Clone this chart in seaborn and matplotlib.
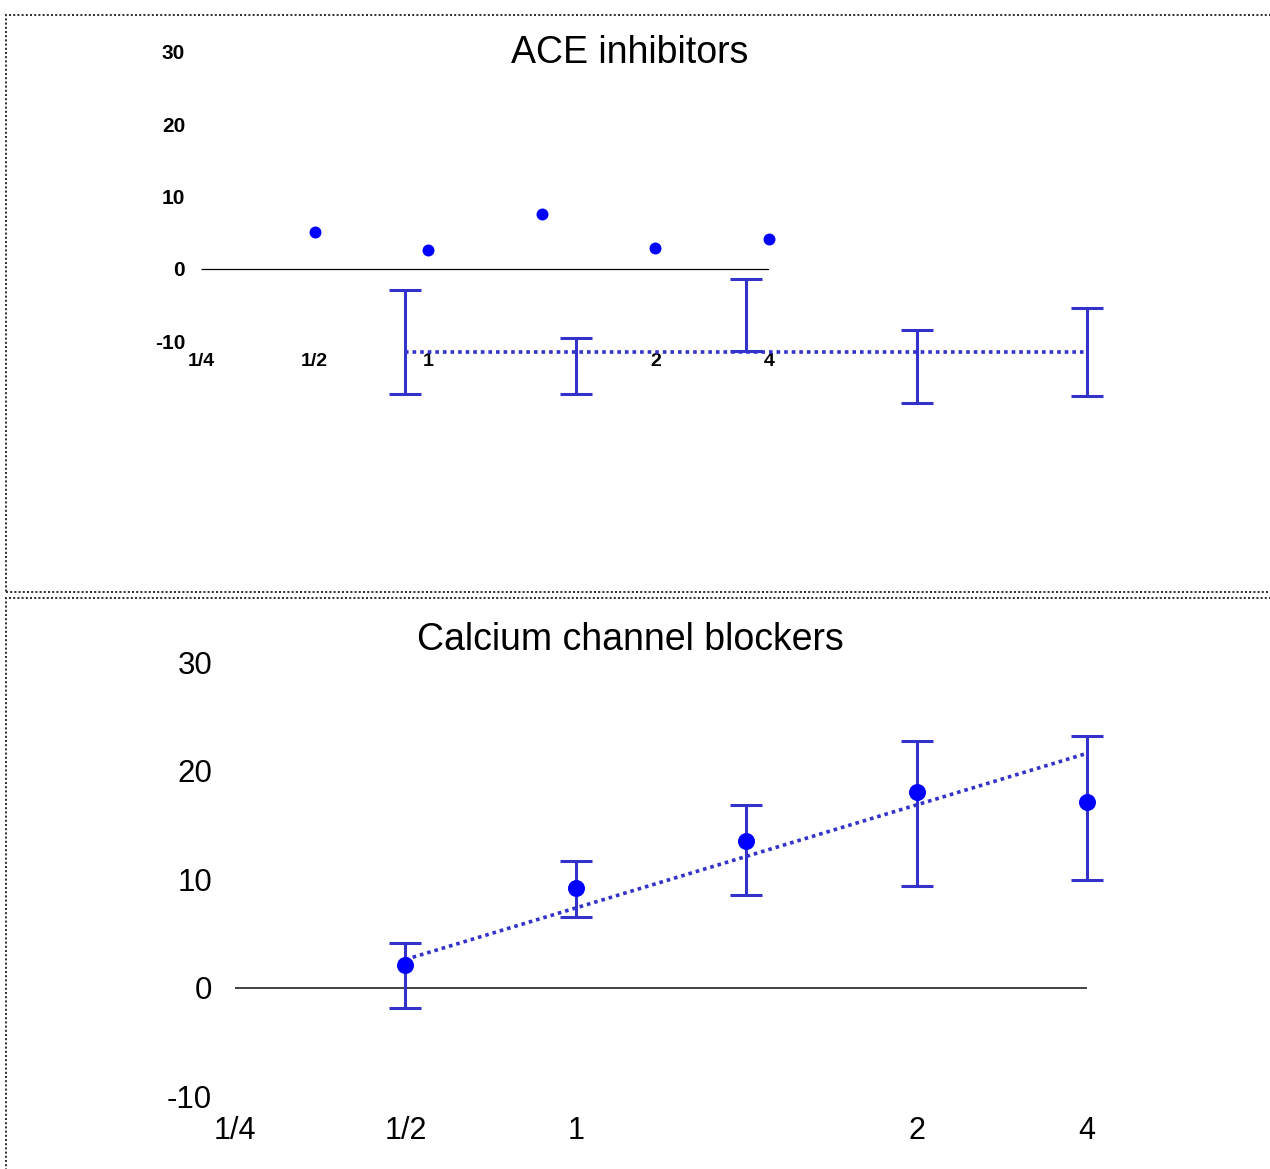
import numpy as np
import pandas as pd
import matplotlib.pyplot as plt
import seaborn as sns
from matplotlib.patches import Rectangle

# dose slots on the x axis: 1/4, 1/2, 1, (unlabelled), 2, 4
tick_pos = [0, 1, 2, 4, 5]
tick_labels = ["1/4", "1/2", "1", "2", "4"]
y_ticks = [-10, 0, 10, 20, 30]
slots = [1, 2, 3, 4, 5]
trend_x = [1, 5]

# ACE inhibitors
ace_mean = [5.1, 2.6, 7.6, 2.9, 4.1]
ace_low = [0.5, 0.5, 4.5, -0.3, 0.3]
ace_high = [10.1, 5.7, 11.1, 6.4, 8.4]
ace_trend = [4.4, 4.4]

# Calcium channel blockers
ccb_mean = [2.1, 9.2, 13.5, 18.0, 17.1]
ccb_low = [-1.9, 6.5, 8.5, 9.4, 9.9]
ccb_high = [4.1, 11.7, 16.8, 22.7, 23.2]
ccb_trend = [2.6, 21.6]

W, H = 1270, 1169
BAR = "#3333cc"
DOT = "#0000ff"

sns.set_style("white")
plt.rcParams['font.family'] = ['Liberation Sans', 'DejaVu Sans']
plt.rcParams['text.color'] = 'black'
plt.rcParams['xtick.color'] = 'black'
plt.rcParams['ytick.color'] = 'black'

fig = plt.figure(figsize=(W / 100, H / 100), dpi=100)


def px_axes(x0, x5, top, bottom):
    # x0 / x5: pixel column of slot 0 and slot 5; top / bottom: pixel row of 30 and -10
    ax = fig.add_axes([x0 / W, 1 - bottom / H, (x5 - x0) / W, (bottom - top) / H])
    ax.set_facecolor("none")
    sns.despine(ax=ax, left=True, bottom=True)
    ax.set_xlim(0, 5)
    ax.set_ylim(-10, 30)
    return ax


def draw_bars(ax, low, high, mean=None):
    low = np.array(low)
    high = np.array(high)
    if mean is None:
        mid = (low + high) / 2
        yerr = (high - low) / 2
    else:
        mid = np.array(mean)
        yerr = [mid - low, high - mid]
    eb = ax.errorbar(slots, mid, yerr=yerr, fmt="none", ecolor=BAR, elinewidth=2.2,
                     capsize=11.5, capthick=2.2, zorder=2)
    for art in eb.get_children():
        art.set_clip_on(False)


def draw_trend(ax, vals):
    df = pd.DataFrame({"x": trend_x, "y": vals})
    sns.lineplot(data=df, x="x", y="y", ax=ax, color=BAR, lw=2.6,
                 linestyle=(0, (1, 1.1)), zorder=3, clip_on=False)
    ax.set_xlabel("")
    ax.set_ylabel("")


# ---- top panel: ACE inhibitors ----
ax1 = px_axes(201, 769, 51.5, 341.5)
ax1.hlines(0, 0, 5, color="black", lw=0.9)
sns.scatterplot(x=slots, y=ace_mean, ax=ax1, color=DOT, s=74, linewidth=0,
                zorder=4, clip_on=False)
ax1.set_xticks(tick_pos, tick_labels, fontsize=14, fontweight="bold")
ax1.set_yticks(y_ticks, [str(v) for v in y_ticks], fontsize=15, fontweight="bold")
ax1.tick_params(axis="x", length=0, pad=8)
ax1.tick_params(axis="y", length=0, pad=11.5)
ax1.set_xlim(0, 5)
ax1.set_ylim(-10, 30)

ax1b = px_axes(235, 1087, 73.9, 507.9)
ax1b.axis("off")
draw_bars(ax1b, ace_low, ace_high)
draw_trend(ax1b, ace_trend)
ax1b.set_xlim(0, 5)
ax1b.set_ylim(-10, 30)

fig.text(630 / W, 1 - 63 / H, "ACE inhibitors", ha="center", va="baseline", fontsize=27)

# ---- bottom panel: Calcium channel blockers ----
ax2 = px_axes(235, 1087, 662.2, 1096.2)
ax2.hlines(0, 0, 5, color="#333333", lw=1.3)
draw_bars(ax2, ccb_low, ccb_high, ccb_mean)
draw_trend(ax2, ccb_trend)
sns.scatterplot(x=slots, y=ccb_mean, ax=ax2, color=DOT, s=150, linewidth=0,
                zorder=4, clip_on=False)
ax2.set_xticks(tick_pos, tick_labels, fontsize=22)
ax2.set_yticks(y_ticks, [str(v) for v in y_ticks], fontsize=22.5)
ax2.tick_params(axis="x", length=0, pad=14)
ax2.tick_params(axis="y", length=0, pad=16.5)
ax2.set_xlim(0, 5)
ax2.set_ylim(-10, 30)

fig.text(630 / W, 1 - 650 / H, "Calcium channel blockers", ha="center", va="baseline", fontsize=27)

# dotted slide frames
for top, bottom in [(15, 592), (598, 1185)]:
    fig.add_artist(Rectangle((6 / W, 1 - bottom / H), 1.0, (bottom - top) / H,
                             transform=fig.transFigure, fill=False, ec="#333333",
                             lw=1.44, ls=(0, (1, 1.1)), clip_on=False))

fig.savefig("out.png", dpi=100)
